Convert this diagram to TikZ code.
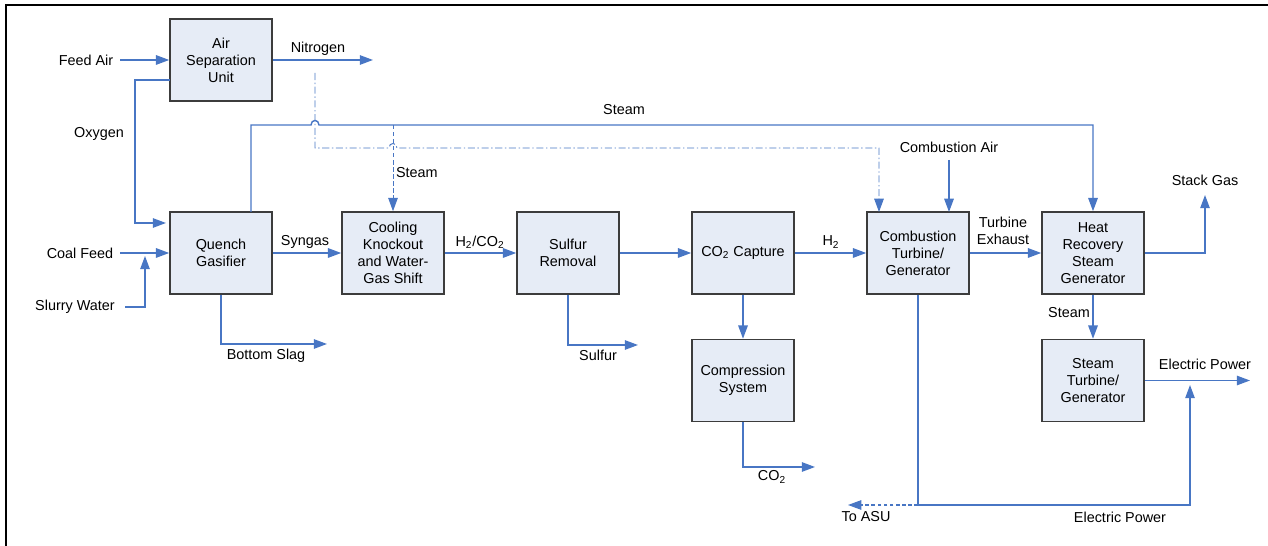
\documentclass[tikz,border=0pt]{standalone}
\usepackage{fontspec}
\setmainfont{Liberation Sans}
\usetikzlibrary{arrows.meta}
\definecolor{flowblue}{RGB}{72,118,196}
\definecolor{boxfill}{RGB}{230,236,246}
\definecolor{boxline}{RGB}{60,60,60}
\begin{document}
\begin{tikzpicture}[x=0.02cm,y=-0.02cm,
    font=\fontsize{8.2}{9.7}\selectfont,
    unit/.style={draw=boxline,fill=boxfill,line width=0.9pt,minimum width=2.04cm,
      minimum height=1.64cm,align=center,inner sep=1pt},
    pipe/.style={draw=flowblue,line width=0.8pt},
    flow/.style={pipe,-{Triangle[length=0.265cm,width=0.19cm]}},
    steamdash/.style={line width=0.55pt,dash pattern=on 2.5pt off 1.5pt},
    nitrodash/.style={line width=0.55pt,dash pattern=on 4pt off 1.5pt on 0.8pt off 1.5pt},
    asudash/.style={line width=0.6pt,dash pattern=on 2pt off 1.5pt}]
    \useasboundingbox (0,0) rectangle (1268,546);
    \draw[line width=0.04cm] (6,546) -- (6,5) -- (1268,5);
    % units
    \node[unit] (asu) at (221,60) {Air\\Separation\\Unit};
    \node[unit] (gasifier) at (221,253) {Quench\\Gasifier};
    \node[unit] (cooling) at (393,253) {Cooling\\Knockout\\and Water-\\Gas Shift};
    \node[unit] (sulfur) at (568,253) {Sulfur\\Removal};
    \node[unit] (capture) at (743,253) {CO\textsubscript{2} Capture};
    \node[unit] (compress) at (743,380.5) {Compression\\System};
    \node[unit] (ct) at (918,253) {Combustion\\Turbine/\\Generator};
    \node[unit] (hrsg) at (1093,253) {Heat\\Recovery\\Steam\\Generator};
    \node[unit] (st) at (1093,380.5) {Steam\\Turbine/\\Generator};
    % stream ends
    \coordinate (airin) at (120,60);
    \coordinate (n2out) at (373,60);
    \coordinate (o2src) at (170,80);
    \coordinate (o2in) at (166,223);
    \coordinate (coalin) at (120,253);
    \coordinate (slurryin) at (125,307);
    \coordinate (slurrytip) at (145,256);
    \coordinate (slagout) at (327,344);
    \coordinate (steamsrc) at (251,212);
    \coordinate (steamtap) at (393,125);
    \coordinate (n2tap) at (315,73);
    \coordinate (ctn2) at (879,212);
    \coordinate (cairin) at (949,160);
    \coordinate (cairtip) at (949,212);
    \coordinate (sulfout) at (638,345);
    \coordinate (co2out) at (815,467);
    \coordinate (stackout) at (1205,195);
    \coordinate (epout) at (1250,380.5);
    \coordinate (ptee) at (918,505);
    \coordinate (toasu) at (848,505);
    \coordinate (eptip) at (1190,385);
    % streams
    \draw[flow] (airin) -- (asu.west);
    \draw[flow] (asu.east) -- (n2out);
    \draw[flow] (o2src) -- (135,80) |- (o2in);
    \draw[flow] (coalin) -- (gasifier.west);
    \draw[flow] (slurryin) -| (slurrytip);
    \draw[flow] (gasifier.east) -- (cooling.west);
    \draw[flow] (gasifier.south) |- (slagout);
    \draw[flow] (steamsrc) |- (311,125) .. controls (311,119) and (319,119) .. (319,125) -| (hrsg.north);
    \draw[flow,steamdash] (steamtap) -- (cooling.north);
    \draw[flow,nitrodash] (n2tap) |- (389,148) .. controls (389,142) and (397,142) .. (397,148) -| (ctn2);
    \draw[flow] (cooling.east) -- (sulfur.west);
    \draw[flow] (sulfur.east) -- (capture.west);
    \draw[flow] (sulfur.south) |- (sulfout);
    \draw[flow] (capture.east) -- (ct.west);
    \draw[flow] (capture.south) -- (compress.north);
    \draw[flow] (compress.south) |- (co2out);
    \draw[flow] (cairin) -- (cairtip);
    \draw[flow] (ct.east) -- (hrsg.west);
    \draw[flow] (hrsg.east) -| (stackout);
    \draw[flow] (hrsg.south) -- (st.north);
    \draw[flow] (st.east) -- (epout);
    \draw[pipe] (ct.south) -- (ptee);
    \draw[flow,asudash] (ptee) -- (toasu);
    \draw[flow] (ptee) -| (eptip);
    % labels
    \node (lblair) at (86,60) {Feed Air};
    \node (lbln2) at (318,49) {Nitrogen};
    \node (lblo2) at (99,134) {Oxygen};
    \node (lblcoal) at (80,253) {Coal Feed};
    \node (lblslurry) at (75,307) {Slurry Water};
    \node (lblsyngas) at (305,242) {Syngas};
    \node (lblslag) at (266,356) {Bottom Slag};
    \node (lblsteam) at (624,110) {Steam};
    \node[anchor=west,inner sep=1pt] (lblsteamb) at (394,173) {Steam};
    \node (lblshift) at (480,242) {H\textsubscript{2}/CO\textsubscript{2}};
    \node (lblsulf) at (598,355) {Sulfur};
    \node (lblh2) at (831,242) {H\textsubscript{2}};
    \node (lblco2) at (772,477) {CO\textsubscript{2}};
    \node (lblcair) at (949,147) {Combustion Air};
    \node[align=center] (lblexh) at (1003,231) {Turbine\\Exhaust};
    \node (lblstack) at (1205,180) {Stack Gas};
    \node (lblsteamc) at (1069,313) {Steam};
    \node (lblep) at (1205,364) {Electric Power};
    \node (lbltoasu) at (866,517) {To ASU};
    \node (lblepb) at (1120,517) {Electric Power};
\end{tikzpicture}
\end{document}
